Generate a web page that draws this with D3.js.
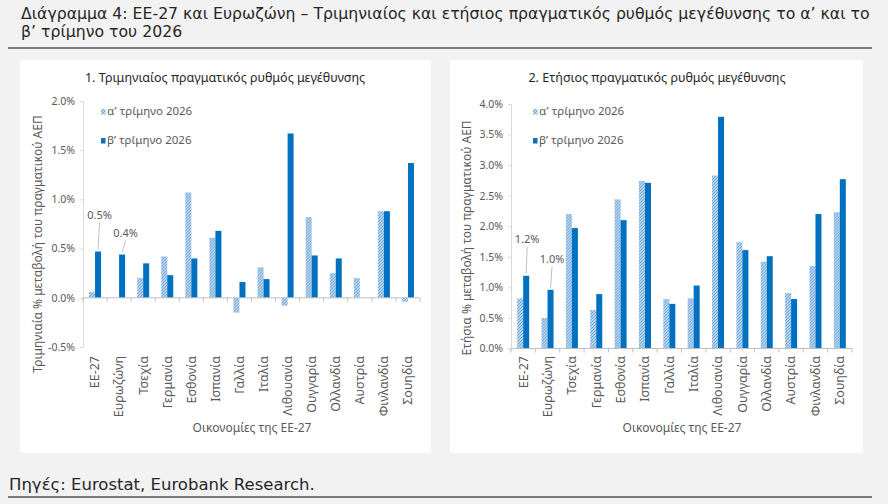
<!DOCTYPE html>
<html lang="el">
<head>
<meta charset="utf-8">
<script src="https://cdn.jsdelivr.net/npm/d3@7"></script>
<style>
  body { margin: 0; background: #f2f2f2; }
  svg { display: block; font-family: 'Noto Sans', sans-serif; }
</style>
</head>
<body>
<div id="graf"></div>
<script>
// datos (%)
const categorias = ['ΕΕ-27', 'Ευρωζώνη', 'Τσεχία', 'Γερμανία', 'Εσθονία', 'Ισπανία', 'Γαλλία',
  'Ιταλία', 'Λιθουανία', 'Ουγγαρία', 'Ολλανδία', 'Αυστρία', 'Φινλανδία', 'Σουηδία']
const series = ['α’ τρίμηνο 2026', 'β’ τρίμηνο 2026']

const trimQ1 = [0.06, 0.00, 0.20, 0.42, 1.07, 0.61, -0.15, 0.31, -0.08, 0.82, 0.25, 0.20, 0.88, -0.04]
const trimQ2 = [0.47, 0.44, 0.35, 0.23, 0.40, 0.68, 0.16, 0.19, 1.67, 0.43, 0.40, 0.00, 0.88, 1.37]
const etosQ1 = [0.82, 0.50, 2.20, 0.63, 2.44, 2.74, 0.81, 0.82, 2.83, 1.74, 1.42, 0.91, 1.35, 2.23]
const etosQ2 = [1.19, 0.96, 1.97, 0.89, 2.10, 2.71, 0.73, 1.03, 3.79, 1.61, 1.51, 0.81, 2.20, 2.77]

const ticksTrim = [-0.5, 0, 0.5, 1.0, 1.5, 2.0]
const ticksEtos = [0, 0.5, 1.0, 1.5, 2.0, 2.5, 3.0, 3.5, 4.0]

const colorQ2 = '#0070c0'
const gris = '#595959'

const svg = d3.select('#graf')
  .append('svg')
  .attr('width', 888)
  .attr('height', 504)

// rayado del primer trimestre
const patron = svg.append('defs')
  .append('pattern')
  .attr('id', 'rayado')
  .attr('patternUnits', 'userSpaceOnUse')
  .attr('width', 3)
  .attr('height', 3)
patron.append('rect')
  .attr('width', 3)
  .attr('height', 3)
  .attr('fill', '#e3eef9')
patron.append('path')
  .attr('d', 'M-1,1 L1,-1 M0,3 L3,0 M2,4 L4,2')
  .attr('stroke', '#5b9bd5')
  .attr('stroke-width', 1.1)

// ajusta el tamaño de letra al ancho medido en el original
function ajustar(texto, medida, ancho) {
  const largo = medida.node().getComputedTextLength()
  texto.style('font-size', `${14.5 * ancho / largo}px`)
}

// titulo y fuente
const titulo = svg.append('text')
  .attr('fill', '#262626')
  .style('font-family', "'DejaVu Sans', sans-serif")
  .style('font-size', '14.5px')
const linea1 = titulo.append('tspan')
  .attr('x', 21)
  .attr('y', 19)
  .text('Διάγραμμα 4: ΕΕ-27 και Ευρωζώνη – Τριμηνιαίος και ετήσιος πραγματικός ρυθμός μεγέθυνσης το α’ και το')
titulo.append('tspan')
  .attr('x', 21)
  .attr('y', 37)
  .text('β’ τρίμηνο του 2026')
ajustar(titulo, linea1, 849)

svg.append('line')
  .attr('x1', 8).attr('x2', 872)
  .attr('y1', 48).attr('y2', 48)
  .attr('stroke', '#000')

const fuente = svg.append('text')
  .attr('x', 9)
  .attr('y', 490)
  .attr('fill', '#262626')
  .style('font-family', "'DejaVu Sans', sans-serif")
  .style('font-size', '14.5px')
  .text('Πηγές: Eurostat, Eurobank Research.')
ajustar(fuente, fuente, 306)

svg.append('line')
  .attr('x1', 8).attr('x2', 872)
  .attr('y1', 497).attr('y2', 497)
  .attr('stroke', '#000')

const paneles = [
  {
    x: 20, w: 411,
    subtitulo: '1. Τριμηνιαίος πραγματικός ρυθμός μεγέθυνσης', subX: 225,
    ejeY: 'Τριμηνιαία % μεταβολή του πραγματικού ΑΕΠ', ejeYx: 42, ejeYy: 244,
    q1: trimQ1, q2: trimQ2, ticks: ticksTrim, dominio: [-0.5, 2.0],
    rangoY: [347, 101], rangoX: [83, 420], ejeXx: 252,
    leyenda: 101,
    notas: [{ i: 0, dy: 33, dx: 1.5 }, { i: 1, dy: 18, dx: 3.5 }],
  },
  {
    x: 450, w: 413,
    subtitulo: '2. Ετήσιος πραγματικός ρυθμός μεγέθυνσης', subX: 657,
    ejeY: 'Ετήσια % μεταβολή του πραγματικού ΑΕΠ', ejeYx: 471, ejeYy: 238,
    q1: etosQ1, q2: etosQ2, ticks: ticksEtos, dominio: [0, 4.0],
    rangoY: [348.5, 104], rangoX: [511, 852], ejeXx: 682,
    leyenda: 533,
    notas: [{ i: 0, dy: 33, dx: 1 }, { i: 1, dy: 27, dx: 1.5 }],
  },
]

paneles.forEach(p => dibujar(p))

function dibujar(p) {
  const g = svg.append('g')

  g.append('rect')
    .attr('x', p.x)
    .attr('y', 60)
    .attr('width', p.w)
    .attr('height', 393)
    .attr('fill', '#fff')

  const y = d3.scaleLinear()
    .domain(p.dominio)
    .range(p.rangoY)

  const x = d3.scaleBand()
    .domain(categorias)
    .range(p.rangoX)

  const bw = x.bandwidth()
  const x1 = d3.scaleBand()
    .domain(series)
    .range([bw / 2 - 6, bw / 2 + 6])

  // subtitulo
  g.append('text')
    .attr('x', p.subX)
    .attr('y', 82)
    .attr('text-anchor', 'middle')
    .attr('fill', '#262626')
    .style('font-size', '12.5px')
    .text(p.subtitulo)

  // eje Y
  const yAxisGroup = g.append('g')
    .attr('transform', `translate(${p.rangoX[0]}, 0)`)
    .call(
      d3.axisLeft(y)
        .tickValues(p.ticks)
        .tickSize(3)
        .tickPadding(5)
        .tickFormat(d => `${d.toFixed(1)}%`)
    )
  yAxisGroup.select('.domain').attr('stroke', '#d9d9d9')
  yAxisGroup.selectAll('.tick line').attr('stroke', '#d9d9d9')
  yAxisGroup.selectAll('text')
    .attr('fill', gris)
    .style('font-size', '10.5px')
    .style('font-family', "'Noto Sans', sans-serif")

  g.append('text')
    .attr('transform', `translate(${p.ejeYx}, ${p.ejeYy}) rotate(-90)`)
    .attr('text-anchor', 'middle')
    .attr('fill', gris)
    .style('font-size', '12px')
    .text(p.ejeY)

  // barras
  const filas = categorias.map((c, i) => ({ c, v: [p.q1[i], p.q2[i]] }))
  const grupos = g.selectAll('.grupo')
    .data(filas)
    .enter()
    .append('g')
    .attr('transform', d => `translate(${x(d.c)}, 0)`)

  grupos.selectAll('rect')
    .data(d => d.v.map((v, k) => ({ s: series[k], v })))
    .enter()
    .append('rect')
      .attr('x', d => x1(d.s))
      .attr('width', x1.bandwidth())
      .attr('y', d => Math.min(y(d.v), y(0)))
      .attr('height', d => Math.abs(y(d.v) - y(0)))
      .attr('fill', d => d.s === series[0] ? 'url(#rayado)' : colorQ2)

  // eje X en cero
  const x0 = p.rangoX[0]
  g.append('line')
    .attr('x1', x0).attr('x2', p.rangoX[1])
    .attr('y1', y(0)).attr('y2', y(0))
    .attr('stroke', '#bfbfbf')
  g.selectAll('.marca')
    .data(d3.range(categorias.length + 1))
    .enter()
    .append('line')
      .attr('x1', i => x0 + i * x.step())
      .attr('x2', i => x0 + i * x.step())
      .attr('y1', y(0))
      .attr('y2', y(0) + 4)
      .attr('stroke', '#bfbfbf')

  g.selectAll('.cat')
    .data(categorias)
    .enter()
    .append('text')
      .attr('transform', d => `translate(${x(d) + bw / 2}, 356) rotate(-90)`)
      .attr('text-anchor', 'end')
      .attr('dy', '0.35em')
      .attr('fill', gris)
      .style('font-size', '12.5px')
      .text(d => d)

  g.append('text')
    .attr('x', p.ejeXx)
    .attr('y', 432)
    .attr('text-anchor', 'middle')
    .attr('fill', gris)
    .style('font-size', '12px')
    .text('Οικονομίες της ΕΕ-27')

  // leyenda
  series.forEach((s, k) => {
    const ly = 115 + k * 29
    g.append('rect')
      .attr('x', p.leyenda)
      .attr('y', ly - 6)
      .attr('width', 4.5)
      .attr('height', 5.5)
      .attr('fill', k === 0 ? 'url(#rayado)' : colorQ2)
    g.append('text')
      .attr('x', p.leyenda + 6)
      .attr('y', ly)
      .attr('fill', gris)
      .style('font-size', '11.5px')
      .text(s)
  })

  // etiquetas de EE-27 y Eurozona
  p.notas.forEach(n => {
    const v = p.q2[n.i]
    const cx = x(categorias[n.i]) + x1(series[1]) + x1.bandwidth() / 2
    const ty = y(v) - n.dy
    g.append('line')
      .attr('x1', cx + n.dx).attr('y1', ty + 4)
      .attr('x2', cx).attr('y2', y(v) - 2)
      .attr('stroke', '#bfbfbf')
    g.append('text')
      .attr('x', cx + n.dx)
      .attr('y', ty)
      .attr('text-anchor', 'middle')
      .attr('fill', gris)
      .style('font-size', '11px')
      .text(`${v.toFixed(1)}%`)
  })
}
</script>
</body>
</html>
